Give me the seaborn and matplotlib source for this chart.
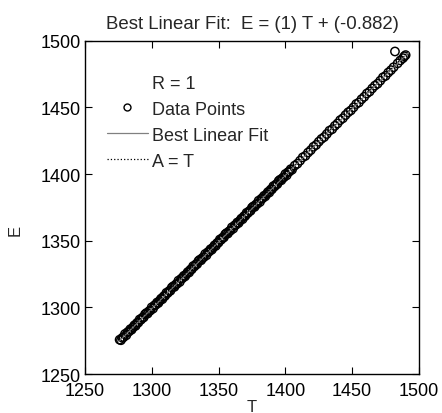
import numpy as np
import pandas as pd
import matplotlib
matplotlib.use('Agg')
import matplotlib.pyplot as plt
import seaborn as sns
from matplotlib.lines import Line2D

sns.set_style('ticks')
plt.rcParams['font.family'] = ['Liberation Sans', 'DejaVu Sans']

# targets (T) and network outputs (E)
T = [1276, 1277, 1278, 1279, 1280, 1281, 1282, 1283, 1284, 1285,
     1286, 1287, 1288, 1289, 1290, 1291, 1292, 1293, 1294, 1295,
     1296, 1297, 1298, 1299, 1300, 1301, 1302, 1303, 1304, 1305,
     1306, 1307, 1308, 1309, 1310, 1311, 1312, 1313, 1314, 1315,
     1316, 1317, 1318, 1319, 1320, 1321, 1322, 1323, 1324, 1325,
     1326, 1327, 1328, 1329, 1330, 1331, 1332, 1333, 1334, 1335,
     1336, 1337, 1338, 1339, 1340, 1341, 1342, 1343, 1344, 1345,
     1346, 1347, 1348, 1349, 1350, 1351, 1352, 1353, 1354, 1355,
     1356, 1357, 1358, 1359, 1360, 1361, 1362, 1363, 1364, 1365,
     1366, 1367, 1368, 1369, 1370, 1371, 1372, 1373, 1374, 1375,
     1376, 1377, 1378, 1379, 1380, 1381, 1382, 1383, 1384, 1385,
     1386, 1387, 1388, 1389, 1390, 1391, 1392, 1393, 1394, 1395,
     1396, 1397, 1398, 1399, 1400, 1401, 1402, 1403, 1404, 1405,
     1407, 1409, 1411, 1413, 1415, 1417, 1419, 1421, 1423, 1425,
     1427, 1429, 1431, 1433, 1435, 1437, 1439, 1441, 1443, 1445,
     1447, 1449, 1451, 1453, 1455, 1457, 1459, 1461, 1463, 1465,
     1467, 1469, 1471, 1473, 1475, 1477, 1479,
     1481, 1482, 1484, 1486, 1488, 1489, 1490]
E = [1275.8, 1275.4, 1277.2, 1277.7, 1280.1, 1279.1, 1281.5, 1281.9, 1283.7, 1283.3,
     1285.0, 1286.6, 1286.2, 1288.4, 1288.6, 1291.0, 1290.8, 1292.3, 1292.5, 1294.9,
     1295.8, 1295.4, 1297.2, 1297.7, 1300.1, 1299.1, 1301.5, 1301.9, 1303.7, 1303.3,
     1305.0, 1306.6, 1306.2, 1308.4, 1308.6, 1311.0, 1310.8, 1312.3, 1312.5, 1314.9,
     1315.8, 1315.4, 1317.2, 1317.7, 1320.1, 1319.1, 1321.5, 1321.9, 1323.7, 1323.3,
     1325.0, 1326.6, 1326.2, 1328.4, 1328.6, 1331.0, 1330.8, 1332.3, 1332.5, 1334.9,
     1335.8, 1335.4, 1337.2, 1337.7, 1340.1, 1339.1, 1341.5, 1341.9, 1343.7, 1343.3,
     1345.0, 1346.6, 1346.2, 1348.4, 1348.6, 1351.0, 1350.8, 1352.3, 1352.5, 1354.9,
     1355.8, 1355.4, 1357.2, 1357.7, 1360.1, 1359.1, 1361.5, 1361.9, 1363.7, 1363.3,
     1365.0, 1366.6, 1366.2, 1368.4, 1368.6, 1371.0, 1370.8, 1372.3, 1372.5, 1374.9,
     1375.8, 1375.4, 1377.2, 1377.7, 1380.1, 1379.1, 1381.5, 1381.9, 1383.7, 1383.3,
     1385.0, 1386.6, 1386.2, 1388.4, 1388.6, 1391.0, 1390.8, 1392.3, 1392.5, 1394.9,
     1395.8, 1395.4, 1397.2, 1397.7, 1400.1, 1399.1, 1401.5, 1401.9, 1403.7, 1403.3,
     1406.4, 1407.8, 1410.1, 1412.6, 1413.7, 1416.2, 1418.0, 1420.5, 1421.9, 1424.3,
     1426.4, 1427.8, 1430.1, 1432.6, 1433.7, 1436.2, 1438.0, 1440.5, 1441.9, 1444.3,
     1446.4, 1447.8, 1450.1, 1452.6, 1453.7, 1456.2, 1458.0, 1460.5, 1461.9, 1464.3,
     1466.4, 1467.8, 1470.1, 1472.6, 1473.7, 1476.2, 1478.0,
     1480.2, 1492.0, 1483.1, 1485.3, 1487.0, 1488.4, 1489.3]

slope = 1
intercept = -0.882
r_value = 1

df = pd.DataFrame({'T': T, 'E': E})
lo = min(df['T'].min(), df['E'].min())
hi = max(df['T'].max(), df['E'].max())
lines = pd.DataFrame({'x': [lo, hi]})
lines['fit'] = lines['x'] * slope + intercept
lines['ident'] = lines['x']

fig = plt.figure(figsize=(4.42, 4.14), dpi=100)
ax = fig.add_axes([0.192, 0.094, 0.756, 0.805])

sns.scatterplot(data=df, x='T', y='E', ax=ax, marker='o', s=36,
                facecolors='none', edgecolor='black', linewidth=1.05, zorder=2)
sns.lineplot(data=lines, x='x', y='fit', ax=ax, color='#808080', linewidth=0.9, zorder=3)
sns.lineplot(data=lines, x='x', y='ident', ax=ax, color='black', linewidth=0.9,
             linestyle=':', zorder=4)

ax.set_xlim(1250, 1500)
ax.set_ylim(1250, 1500)
ax.set_xticks(range(1250, 1501, 50))
ax.set_yticks(range(1250, 1501, 50))
ax.tick_params(direction='in', top=True, right=True, length=5, width=0.8,
               labelsize=13, colors='black')
ax.tick_params(axis='x', pad=6)
ax.tick_params(axis='y', pad=3)
for sp in ax.spines.values():
    sp.set_linewidth(1.0)
    sp.set_color('black')

ax.set_xlabel('T', fontsize=12, labelpad=0)
ax.set_ylabel('E', fontsize=12)
ax.yaxis.set_label_coords(-0.185, 0.435)
ax.set_title(f'Best Linear Fit:  E = ({slope}) T + ({intercept})', fontsize=13.4, pad=9)

handles = [
    Line2D([], [], linestyle='none'),
    Line2D([], [], linestyle='none', marker='o', markerfacecolor='none',
           markeredgecolor='black', markersize=5),
    Line2D([], [], color='#808080', linewidth=0.9),
    Line2D([], [], color='black', linewidth=0.9, linestyle=':'),
]
labels = [f'R = {r_value}', 'Data Points', 'Best Linear Fit', 'A = T']
ax.legend(handles, labels, loc='upper left', bbox_to_anchor=(0.044, 0.92),
          frameon=False, fontsize=13, handlelength=2.28, handletextpad=0.22,
          labelspacing=0.5, borderaxespad=0)

fig.savefig('out.png', dpi=100)
